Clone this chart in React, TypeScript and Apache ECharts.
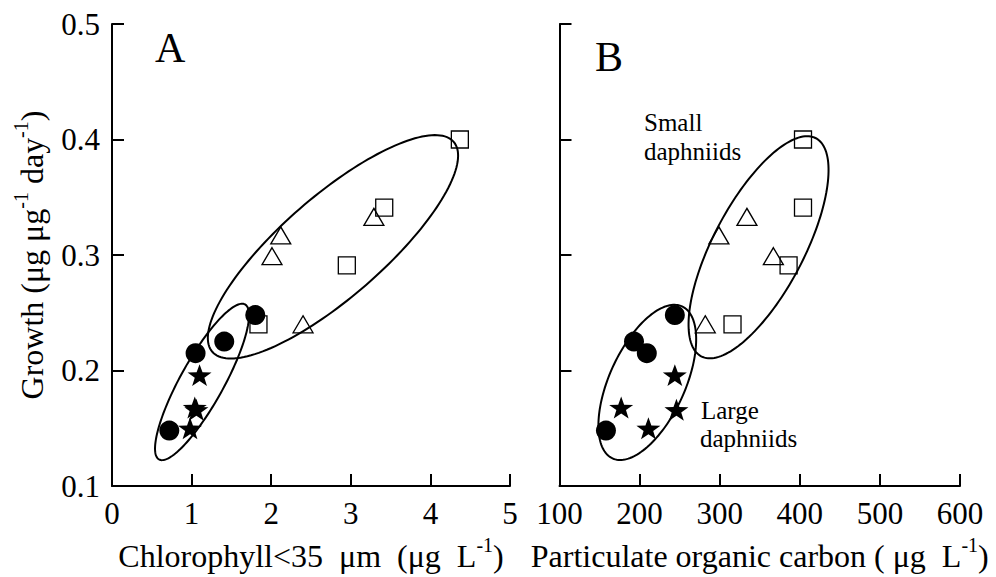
import React, { useEffect, useRef } from "react";
import * as echarts from "echarts";

const FONT = "'Liberation Serif', 'Times New Roman', Times, serif";

// Growth (µg µg-1 day-1) of each group, shared by both panels
const squareGrowth = [0.4, 0.341, 0.291, 0.24];
const squareChl = [4.37, 3.42, 2.95, 1.84];
const squarePOC = [404, 404, 386, 316];

const triangleGrowth = [0.333, 0.317, 0.299, 0.24];
const triangleChl = [3.29, 2.12, 2.01, 2.4];
const trianglePOC = [334, 299, 367, 282];

const circleGrowth = [0.248, 0.225, 0.215, 0.148];
const circleChl = [1.8, 1.41, 1.05, 0.72];
const circlePOC = [244, 193, 209, 158];

const starGrowth = [0.196, 0.168, 0.166, 0.15];
const starChl = [1.1, 1.04, 1.06, 0.98];
const starPOC = [244, 177, 246, 211];

// axes
const chlTicks = [0, 5, 1];
const pocTicks = [100, 600, 100];
const growthTicks = [0.1, 0.5, 0.1];

// grouping ellipses: [centerX, centerY, axis1X, axis1Y, axis2X, axis2Y] in data units
const ellipsesA = [
  [2.776, 0.3071, 1.516, 0.0909, 0.416, -0.033],
  [1.131, 0.1901, 0.54, 0.0671, 0.239, -0.0091],
];
const ellipsesB = [
  [348.5, 0.3067, 71.6, 0.0944, 50.1, -0.0183],
  [209.6, 0.1897, 43.4, 0.0658, 42.9, -0.0136],
];

const STAR =
  "path://M0,-10L2.351,-3.236L9.511,-3.09L3.804,1.236L5.878,8.09L0,4L-5.878,8.09L-3.804,1.236L-9.511,-3.09L-2.351,-3.236Z";

const zip = (xs: number[], ys: number[]) => xs.map((x, i) => [x, ys[i]]);

function ellipseSeries(data: number[][], idx: number) {
  return {
    type: "custom",
    xAxisIndex: idx,
    yAxisIndex: idx,
    z: 1,
    clip: false,
    encode: { x: 0, y: 1 },
    data,
    renderItem: (params: any, api: any) => {
      const cx = api.value(0), cy = api.value(1);
      const ux = api.value(2), uy = api.value(3);
      const vx = api.value(4), vy = api.value(5);
      const pts: number[][] = [];
      const n = 160;
      for (let i = 0; i < n; i++) {
        const t = (i / n) * Math.PI * 2;
        pts.push(
          api.coord([
            cx + ux * Math.cos(t) + vx * Math.sin(t),
            cy + uy * Math.cos(t) + vy * Math.sin(t),
          ])
        );
      }
      return {
        type: "polygon",
        shape: { points: pts },
        style: { fill: "none", stroke: "#000", lineWidth: 2 },
      };
    },
  };
}

function markerSeries(idx: number, xs: number[], ys: number[], kind: string) {
  const base: any = {
    type: "scatter",
    xAxisIndex: idx,
    yAxisIndex: idx,
    data: zip(xs, ys),
    z: 3,
    emphasis: { disabled: true },
  };
  if (kind === "square") {
    return { ...base, symbol: "rect", symbolSize: 17, z: 2, itemStyle: { color: "rgba(0,0,0,0)", borderColor: "#000", borderWidth: 1.3, opacity: 1 } };
  }
  if (kind === "triangle") {
    return { ...base, symbol: "triangle", symbolSize: [20, 17], z: 2, itemStyle: { color: "rgba(0,0,0,0)", borderColor: "#000", borderWidth: 1.3, opacity: 1 } };
  }
  if (kind === "circle") {
    return { ...base, symbol: "circle", symbolSize: 20, z: 4, itemStyle: { color: "#000", opacity: 1 } };
  }
  return { ...base, symbol: STAR, symbolSize: [24, 23], symbolKeepAspect: true, z: 5, itemStyle: { color: "#000", opacity: 1 } };
}

const supRich = {
  sup: { fontSize: 20, fontFamily: FONT, color: "#000", padding: [0, 0, 22, 0] },
};

function xAxisCfg(idx: number, ticks: number[], name: string) {
  return {
    gridIndex: idx,
    type: "value",
    min: ticks[0],
    max: ticks[1],
    interval: ticks[2],
    axisLine: { show: true, onZero: false, lineStyle: { color: "#000", width: 2 } },
    axisTick: { show: true, inside: true, length: 12, lineStyle: { color: "#000", width: 2 } },
    axisLabel: { fontSize: 31, fontFamily: FONT, color: "#000", margin: 12 },
    splitLine: { show: false },
    name,
    nameLocation: "middle",
    nameGap: 49,
    nameTextStyle: { fontSize: 32, fontFamily: FONT, color: "#000", rich: supRich },
  };
}

function yAxisCfg(idx: number, showLabels: boolean, name: string) {
  return {
    gridIndex: idx,
    type: "value",
    min: growthTicks[0],
    max: growthTicks[1],
    interval: growthTicks[2],
    axisLine: { show: true, onZero: false, lineStyle: { color: "#000", width: 2 } },
    axisTick: { show: true, inside: true, length: 12, lineStyle: { color: "#000", width: 2 } },
    axisLabel: { show: showLabels, fontSize: 31, fontFamily: FONT, color: "#000", margin: 12 },
    splitLine: { show: false },
    name,
    nameLocation: "middle",
    nameGap: 59,
    nameTextStyle: { fontSize: 32, fontFamily: FONT, color: "#000", rich: supRich },
  };
}

function label(text: string, x: number, y: number, size: number) {
  return {
    type: "text",
    x,
    y,
    z: 10,
    style: {
      text,
      fontSize: size,
      fontFamily: FONT,
      fill: "#000",
      align: "left",
      verticalAlign: "middle",
      textAlign: "left",
      textVerticalAlign: "middle",
    },
  };
}

export default function App() {
  const ref = useRef<HTMLDivElement>(null);
  useEffect(() => {
    document.body.style.margin = "0";
    if (!ref.current) return;
    const chart = echarts.init(ref.current, null, { renderer: "svg" });
    chart.setOption({
      animation: false,
      backgroundColor: "#fff",
      grid: [
        { left: 112, top: 24, width: 398, height: 462 },
        { left: 559.5, top: 24, width: 400.5, height: 462 },
      ],
      xAxis: [
        xAxisCfg(0, chlTicks, "Chlorophyll<35\u00a0 μm\u00a0 (μg\u00a0 L{sup|-1})"),
        xAxisCfg(1, pocTicks, "Particulate organic carbon ( μg\u00a0 L{sup|-1})"),
      ],
      yAxis: [
        yAxisCfg(0, true, "Growth (μg μg{sup|-1}\u00a0day{sup|-1})"),
        yAxisCfg(1, false, ""),
      ],
      graphic: [
        label("A", 155, 47.5, 42),
        label("B", 595, 56.5, 42),
        label("Small", 644, 122.6, 25),
        label("daphniids", 644, 151.6, 25),
        label("Large", 701, 410, 25),
        label("daphniids", 700, 438, 25),
      ],
      series: [
        ellipseSeries(ellipsesA, 0),
        ellipseSeries(ellipsesB, 1),
        markerSeries(0, squareChl, squareGrowth, "square"),
        markerSeries(0, triangleChl, triangleGrowth, "triangle"),
        markerSeries(0, circleChl, circleGrowth, "circle"),
        markerSeries(0, starChl, starGrowth, "star"),
        markerSeries(1, squarePOC, squareGrowth, "square"),
        markerSeries(1, trianglePOC, triangleGrowth, "triangle"),
        markerSeries(1, circlePOC, circleGrowth, "circle"),
        markerSeries(1, starPOC, starGrowth, "star"),
      ],
    });
    return () => chart.dispose();
  }, []);
  return <div ref={ref} style={{ width: 996, height: 577 }} />;
}
